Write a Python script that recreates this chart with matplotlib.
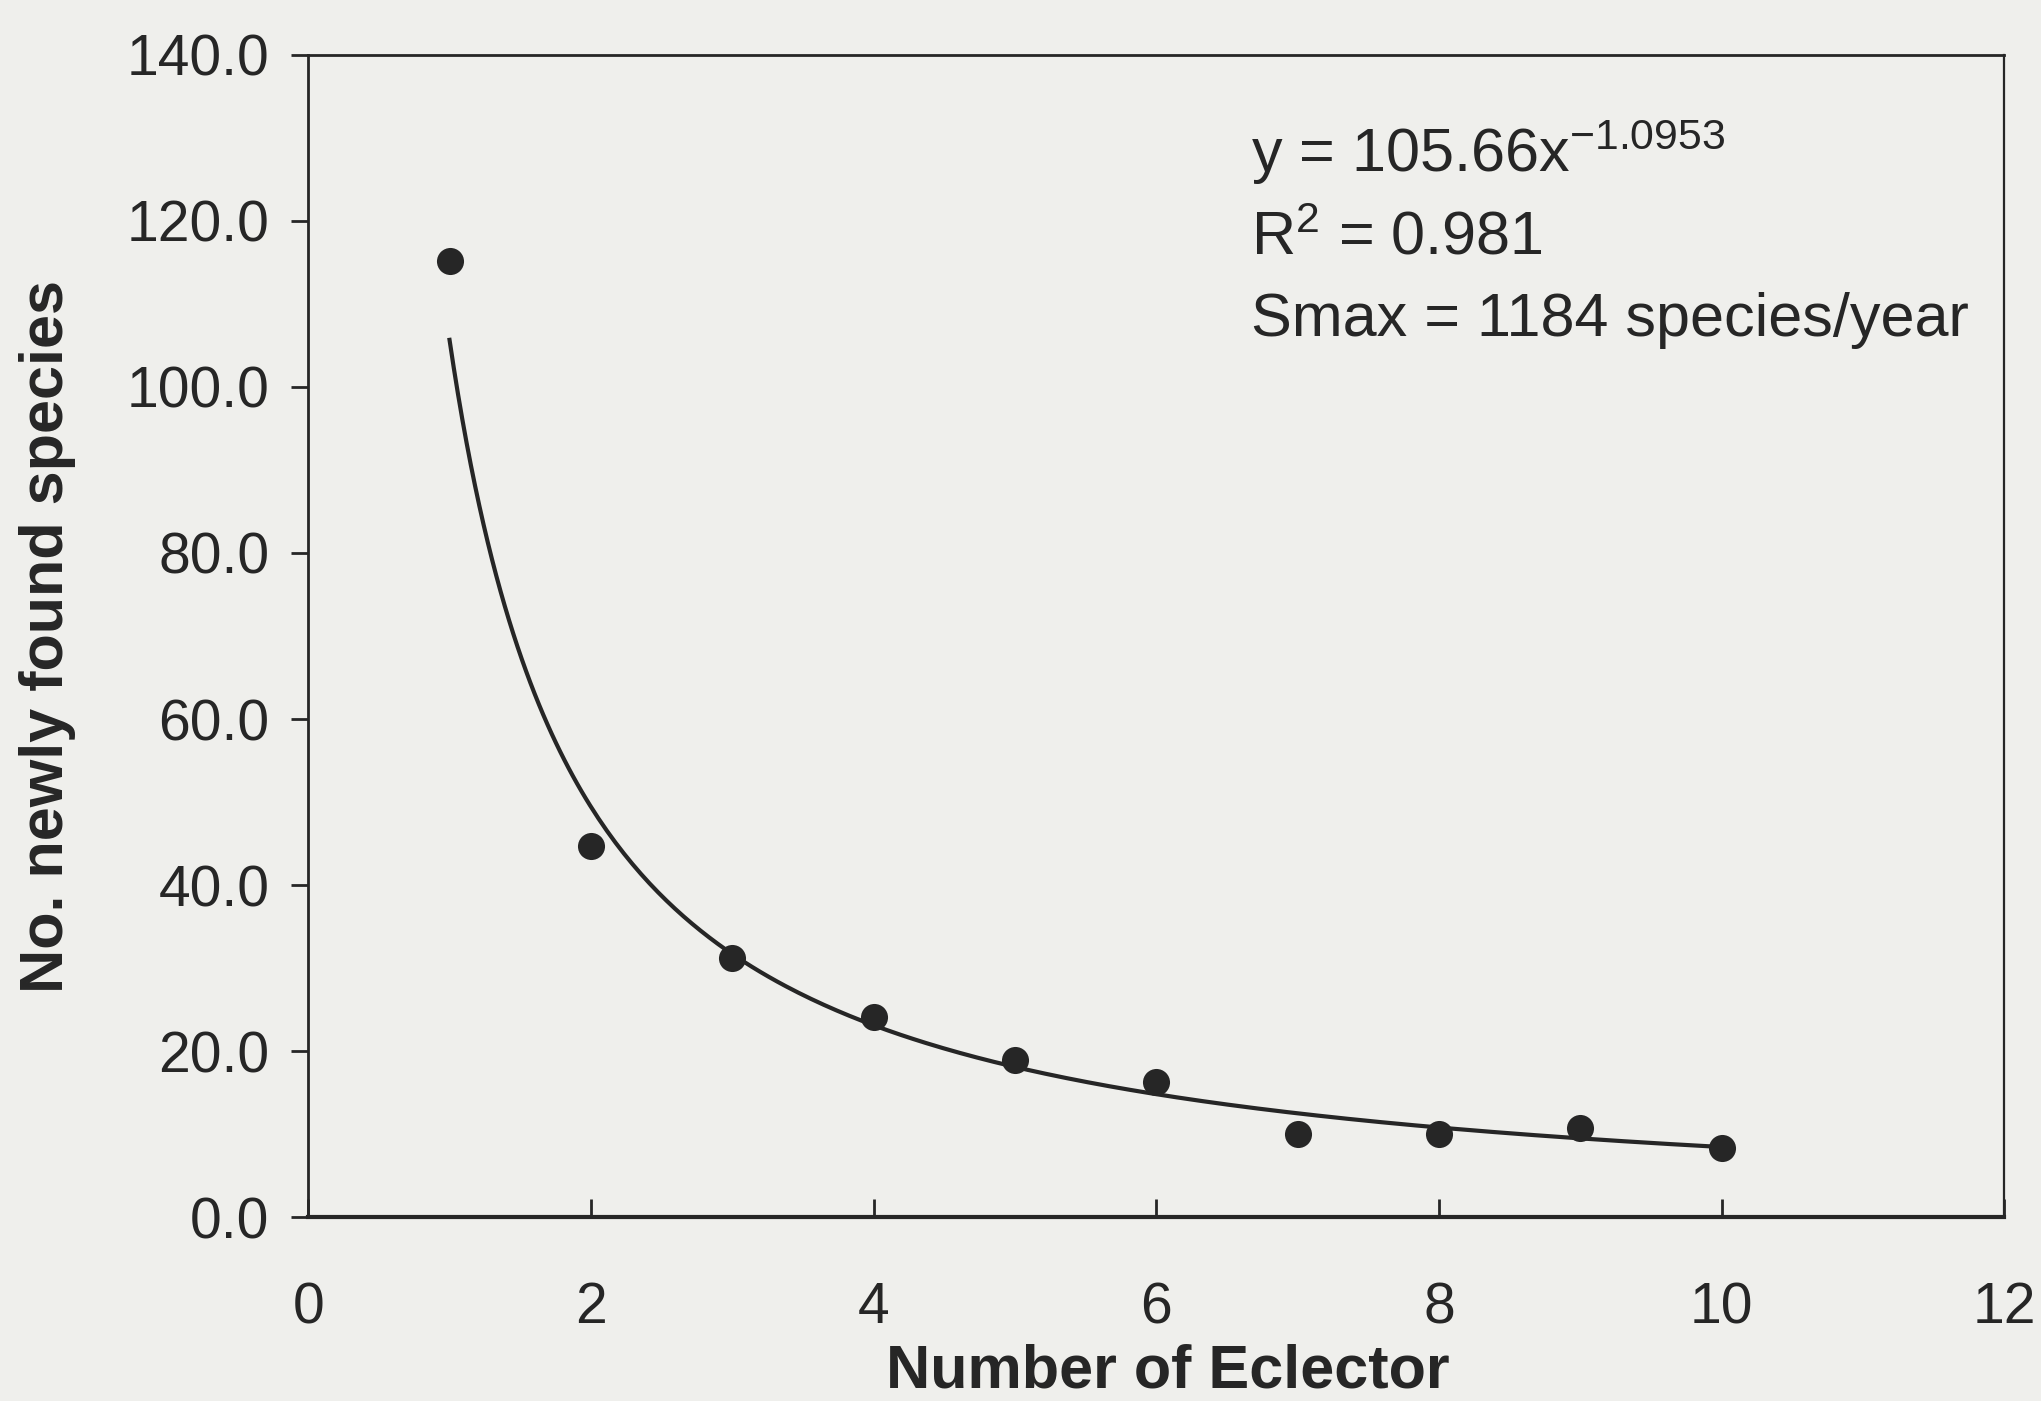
import matplotlib
matplotlib.use("Agg")
import matplotlib.pyplot as plt
import numpy as np

# number of eclectors and newly found species
eclectors = [1, 2, 3, 4, 5, 6, 7, 8, 9, 10]
new_species = [115.1, 44.7, 31.2, 24.1, 18.9, 16.3, 10.1, 10.1, 10.8, 8.4]

# power trendline given on the chart: y = a * x^b
fit_a = 105.66
fit_b = -1.0953
fit_r2 = 0.981
smax = 1184

x_ticks = [0, 2, 4, 6, 8, 10, 12]
y_ticks = [0, 20, 40, 60, 80, 100, 120, 140]

BG = '#efefec'
INK = '#262626'

plt.rcParams['font.family'] = ['Liberation Sans', 'DejaVu Sans']
plt.rcParams['mathtext.fontset'] = 'custom'
plt.rcParams['mathtext.rm'] = 'Liberation Sans'
plt.rcParams['mathtext.it'] = 'Liberation Sans:italic'
plt.rcParams['mathtext.default'] = 'rm'

fig = plt.figure(figsize=(20.41, 14.01), dpi=100, facecolor=BG)
ax = fig.add_axes([0.151, 0.131, 0.831, 0.830], facecolor=BG)

# trendline from x=1 to x=10
xs = np.linspace(min(eclectors), max(eclectors), 300)
ax.plot(xs, fit_a * xs ** fit_b, color=INK, lw=3, zorder=2)
ax.scatter(eclectors, new_species, s=380, color=INK, zorder=3, linewidths=0)

ax.set_xlim(0, 12)
ax.set_ylim(0, 140)
ax.set_xticks(x_ticks)
ax.set_xticklabels([str(t) for t in x_ticks])
ax.set_yticks(y_ticks)
ax.set_yticklabels(['%.1f' % t for t in y_ticks])

ax.tick_params(axis='x', direction='in', length=13, width=2, pad=46,
               labelsize=41, colors=INK)
ax.tick_params(axis='y', direction='out', length=12, width=2, pad=16,
               labelsize=41, colors=INK)

for side, w in [('left', 2), ('bottom', 3), ('top', 2), ('right', 1.6)]:
    ax.spines[side].set_linewidth(w)
    ax.spines[side].set_color(INK)

lab_font = dict(fontsize=44, fontweight='bold', color=INK)
ax.set_xlabel('Number of Eclector', **lab_font)
ax.xaxis.set_label_coords(0.507, -0.108)
ax.set_ylabel('No. newly found species', **lab_font)
ax.yaxis.set_label_coords(-0.137, 0.5)

ann = dict(transform=ax.transAxes, fontsize=44, color=INK, va='baseline', ha='left')
ax.text(0.556, 0.899, r'y = %.2fx$^{%.4f}$' % (fit_a, fit_b), **ann)
ax.text(0.556, 0.828, r'R$^{2}$ = %.3f' % fit_r2, **ann)
ax.text(0.556, 0.758, 'Smax = %d species/year' % smax, **ann)

fig.savefig('out.png', dpi=100, facecolor=BG)
